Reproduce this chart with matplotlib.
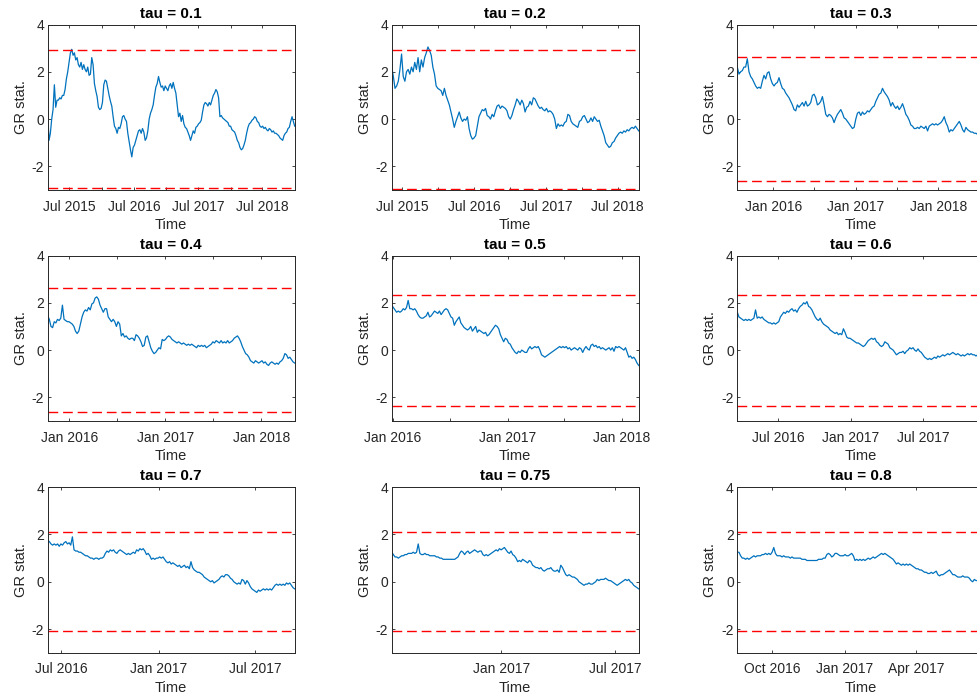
import matplotlib
matplotlib.use("Agg")
import matplotlib.pyplot as plt
import matplotlib.dates as mdates
import pandas as pd

plt.rcParams["font.family"] = ["Liberation Sans", "DejaVu Sans"]
plt.rcParams["axes.unicode_minus"] = False

# quantile levels and the matching critical values of the test
TAUS = ["0.1", "0.2", "0.3", "0.4", "0.5", "0.6", "0.7", "0.75", "0.8"]
CRIT = [2.93, 2.94, 2.62, 2.61, 2.35, 2.35, 2.09, 2.09, 2.09]

# sample window of each rolling statistic
START = ["2015-02-28", "2015-05-08", "2015-07-26",
         "2015-10-11", "2015-12-29", "2016-03-20",
         "2016-06-05", "2016-07-10", "2016-08-18"]
END = ["2018-12-31", "2018-10-16", "2018-07-23",
       "2018-05-08", "2018-02-23", "2017-12-03",
       "2017-09-14", "2017-08-08", "2017-06-26"]

gr_01 = [0.25, -0.9, -0.6, 0.0, 0.4, 1.45, 0.5, 0.8, 0.8, 0.9, 0.85, 1.0, 1.0, 1.25, 1.7, 2.0, 2.4, 2.8, 2.95,
         2.7, 2.8, 2.5, 2.6, 2.3, 2.2, 2.4, 2.1, 2.3, 2.1, 2.0, 2.2, 1.85, 1.9, 2.6, 2.3, 1.5, 1.2, 0.95, 0.5,
         0.4, 0.45, 0.7, 1.45, 1.65, 1.6, 1.3, 1.0, 0.75, 0.55, 0.1, -0.3, -0.4, -0.6, -0.35, -0.4, -0.2, 0.1,
         0.15, 0.0, -0.1, -0.6, -0.95, -1.3, -1.6, -1.2, -1.1, -0.9, -0.7, -0.5, -0.45, -0.6, -0.4, -0.55, -0.9,
         -0.8, -0.5, 0.0, 0.25, 0.4, 0.6, 1.0, 1.35, 1.5, 1.8, 1.55, 1.35, 1.4, 1.2, 1.4, 1.3, 1.2, 1.4, 1.5,
         1.3, 1.55, 1.3, 1.1, 0.6, 0.1, 0.25, -0.1, 0.15, -0.2, -0.35, -0.4, -0.55, -0.7, -0.9, -0.7, -0.5,
         -0.6, -0.35, -0.3, -0.2, -0.15, -0.05, 0.3, 0.6, 0.7, 0.65, 0.55, 0.7, 0.6, 0.8, 1.0, 1.1, 1.25, 1.15,
         0.9, 0.1, 0.15, 0.05, 0.0, -0.05, -0.1, -0.15, -0.3, -0.3, -0.45, -0.5, -0.55, -0.7, -0.9, -1.0, -1.2,
         -1.3, -1.25, -1.1, -0.9, -0.6, -0.35, -0.2, -0.15, -0.05, 0.0, 0.1, 0.05, -0.1, -0.15, -0.3, -0.35,
         -0.3, -0.4, -0.35, -0.45, -0.5, -0.4, -0.45, -0.55, -0.5, -0.6, -0.6, -0.65, -0.7, -0.8, -0.85, -0.9,
         -0.7, -0.6, -0.55, -0.4, -0.35, -0.1, 0.1, -0.1, -0.3]

gr_02 = [2.2, 1.8, 1.3, 1.4, 1.6, 2.1, 2.75, 1.8, 1.6, 2.0, 2.1, 1.9, 2.2, 2.0, 2.4, 2.1, 2.6, 2.0, 2.5, 2.2,
         2.6, 2.8, 3.05, 2.9, 2.7, 2.2, 1.9, 1.4, 1.3, 1.25, 1.2, 1.0, 1.3, 1.0, 0.8, 0.6, 0.3, 0.0, -0.35,
         -0.1, 0.1, 0.3, 0.05, -0.1, 0.0, -0.05, 0.1, -0.4, -0.7, -0.85, -0.8, -0.7, -0.3, 0.1, 0.25, 0.4, 0.35,
         0.45, 0.15, 0.1, 0.0, 0.2, 0.1, 0.35, 0.55, 0.6, 0.45, 0.55, 0.5, 0.45, 0.35, 0.1, 0.0, 0.15, 0.4, 0.6,
         0.85, 0.75, 0.6, 0.8, 0.65, 0.3, 0.5, 0.55, 0.75, 0.6, 0.9, 0.85, 0.7, 0.55, 0.45, 0.5, 0.4, 0.35,
         0.45, 0.3, 0.35, 0.3, 0.2, 0.0, -0.4, -0.2, -0.3, -0.25, -0.3, -0.15, -0.1, 0.2, 0.15, -0.1, -0.2,
         -0.25, -0.3, -0.35, -0.1, -0.05, 0.1, 0.15, 0.0, -0.15, -0.1, 0.05, -0.1, 0.1, 0.0, -0.1, -0.05, -0.3,
         -0.5, -0.7, -1.0, -1.1, -1.2, -1.15, -1.0, -0.95, -0.8, -0.7, -0.6, -0.55, -0.6, -0.5, -0.55, -0.45,
         -0.5, -0.4, -0.35, -0.4, -0.3, -0.4, -0.5]

gr_03 = [2.2, 1.9, 2.0, 2.05, 2.2, 2.2, 2.55, 2.0, 1.8, 1.7, 1.55, 1.4, 1.3, 1.35, 1.3, 1.6, 1.85, 1.7, 1.95,
         2.0, 1.7, 1.5, 1.4, 1.5, 1.55, 1.75, 1.5, 1.3, 1.25, 1.1, 1.0, 0.9, 0.75, 0.6, 0.4, 0.35, 0.6, 0.5,
         0.6, 0.7, 0.55, 0.75, 0.55, 0.6, 0.7, 1.0, 1.05, 0.9, 0.6, 0.65, 0.75, 0.95, 0.6, 0.2, 0.1, 0.2, 0.15,
         0.05, -0.15, 0.05, 0.2, 0.3, 0.4, 0.25, 0.05, 0.0, -0.1, -0.2, -0.3, -0.4, -0.35, 0.0, 0.25, 0.3, 0.15,
         0.3, 0.2, 0.25, 0.35, 0.3, 0.4, 0.5, 0.55, 0.75, 0.9, 1.05, 1.1, 1.3, 1.15, 1.05, 0.95, 0.8, 0.55, 0.7,
         0.55, 0.45, 0.55, 0.4, 0.5, 0.65, 0.45, 0.2, 0.1, -0.05, -0.25, -0.3, -0.4, -0.4, -0.35, -0.4, -0.3,
         -0.35, -0.4, -0.3, -0.5, -0.3, -0.25, -0.2, -0.25, -0.2, -0.25, -0.2, -0.15, -0.05, 0.1, -0.15, -0.3,
         -0.55, -0.45, -0.5, -0.4, -0.3, -0.2, -0.1, -0.25, -0.45, -0.55, -0.35, -0.45, -0.5, -0.55, -0.55,
         -0.6, -0.6, -0.65, -0.7, -0.65, -0.7, -0.7]

gr_04 = [1.45, 1.3, 1.0, 0.95, 1.2, 1.15, 1.3, 1.25, 1.35, 1.9, 1.3, 1.25, 1.2, 1.2, 1.15, 1.1, 1.0, 0.8, 0.7,
         0.8, 1.1, 1.4, 1.6, 1.7, 1.65, 1.8, 1.7, 1.95, 2.0, 2.2, 2.25, 2.15, 1.9, 1.75, 1.6, 1.75, 1.75, 1.4,
         1.3, 1.2, 1.3, 1.2, 1.0, 1.2, 1.1, 0.6, 0.7, 0.55, 0.6, 0.5, 0.45, 0.5, 0.5, 0.4, 0.65, 0.6, 0.5, 0.35,
         0.15, 0.2, 0.55, 0.6, 0.35, 0.1, -0.05, -0.15, -0.1, 0.0, 0.1, 0.05, 0.45, 0.4, 0.45, 0.55, 0.6, 0.55,
         0.45, 0.4, 0.35, 0.3, 0.35, 0.3, 0.25, 0.3, 0.25, 0.2, 0.25, 0.2, 0.25, 0.2, 0.15, 0.1, 0.2, 0.15, 0.2,
         0.15, 0.2, 0.1, 0.15, 0.2, 0.25, 0.35, 0.3, 0.4, 0.35, 0.3, 0.4, 0.3, 0.35, 0.3, 0.4, 0.3, 0.35, 0.4,
         0.5, 0.55, 0.6, 0.5, 0.35, 0.15, 0.0, -0.15, -0.2, -0.3, -0.45, -0.5, -0.55, -0.45, -0.5, -0.55, -0.5,
         -0.45, -0.55, -0.5, -0.6, -0.65, -0.55, -0.5, -0.55, -0.6, -0.55, -0.6, -0.5, -0.45, -0.35, -0.15,
         -0.2, -0.35, -0.3, -0.4, -0.5, -0.55]

gr_05 = [1.9, 1.8, 1.7, 1.6, 1.65, 1.6, 1.65, 1.75, 1.7, 1.8, 2.1, 1.75, 1.75, 1.7, 1.75, 1.65, 1.5, 1.4, 1.35,
         1.35, 1.4, 1.45, 1.6, 1.4, 1.45, 1.55, 1.65, 1.6, 1.55, 1.65, 1.5, 1.6, 1.7, 1.75, 1.7, 1.55, 1.4,
         1.35, 1.05, 1.2, 1.3, 1.4, 1.15, 1.05, 0.95, 0.9, 0.85, 0.9, 1.0, 0.8, 0.9, 1.0, 0.75, 0.85, 0.8, 0.75,
         0.7, 0.75, 0.6, 0.65, 0.75, 0.85, 0.95, 1.05, 1.0, 0.9, 0.65, 0.5, 0.35, 0.5, 0.45, 0.3, 0.25, 0.1, 0.0,
         -0.1, -0.15, -0.05, -0.1, 0.0, -0.05, -0.1, -0.1, 0.05, 0.15, 0.05, 0.1, 0.15, 0.1, 0.15, 0.0, -0.2,
         -0.25, -0.3, -0.25, -0.2, -0.15, -0.1, -0.05, 0.0, 0.05, 0.1, 0.15, 0.1, 0.15, 0.1, 0.15, 0.05, 0.1,
         0.0, 0.05, 0.1, 0.05, 0.0, 0.1, 0.05, -0.1, 0.05, 0.15, 0.05, 0.0, 0.2, 0.25, 0.15, 0.2, 0.1, 0.15,
         0.05, 0.1, 0.05, 0.0, 0.05, 0.1, 0.0, 0.1, -0.05, 0.15, 0.1, 0.15, 0.1, 0.05, 0.0, 0.1, -0.1, -0.3,
         -0.25, -0.35, -0.3, -0.4, -0.55, -0.65]

gr_06 = [1.6, 1.4, 1.35, 1.3, 1.25, 1.3, 1.25, 1.3, 1.25, 1.3, 1.35, 1.7, 1.35, 1.4, 1.35, 1.4, 1.3, 1.25, 1.2,
         1.15, 1.15, 1.1, 1.15, 1.1, 1.15, 1.2, 1.4, 1.5, 1.6, 1.55, 1.65, 1.6, 1.7, 1.75, 1.65, 1.7, 1.6, 1.75,
         1.85, 1.9, 2.0, 1.95, 2.05, 1.85, 1.8, 1.7, 1.55, 1.4, 1.3, 1.25, 1.35, 1.2, 1.1, 1.05, 1.0, 0.95, 0.85,
         0.8, 0.75, 0.7, 0.75, 0.65, 0.7, 0.65, 0.9, 0.75, 0.55, 0.5, 0.5, 0.45, 0.4, 0.35, 0.3, 0.3, 0.25, 0.2,
         0.15, 0.2, 0.3, 0.4, 0.45, 0.5, 0.45, 0.5, 0.35, 0.3, 0.2, 0.15, 0.2, 0.35, 0.3, 0.25, 0.1, 0.05, 0.0,
         -0.1, -0.2, -0.15, -0.1, -0.1, -0.05, -0.15, -0.05, 0.0, 0.1, 0.05, 0.1, 0.0, -0.05, 0.05, -0.05, -0.1,
         -0.2, -0.3, -0.35, -0.4, -0.35, -0.4, -0.35, -0.3, -0.35, -0.25, -0.3, -0.25, -0.2, -0.25, -0.2, -0.15,
         -0.2, -0.15, -0.1, -0.15, -0.2, -0.15, -0.2, -0.25, -0.2, -0.25, -0.2, -0.15, -0.2, -0.15, -0.2, -0.2,
         -0.25, -0.2, -0.2, -0.25, -0.2, -0.2]

gr_07 = [1.75, 1.7, 1.6, 1.55, 1.6, 1.55, 1.6, 1.5, 1.6, 1.55, 1.65, 1.7, 1.6, 1.65, 1.55, 1.9, 1.35, 1.3, 1.3,
         1.25, 1.25, 1.2, 1.15, 1.1, 1.1, 1.05, 1.0, 1.0, 0.95, 1.0, 1.0, 0.95, 1.0, 1.0, 1.05, 1.2, 1.3, 1.25,
         1.35, 1.3, 1.35, 1.25, 1.2, 1.3, 1.35, 1.3, 1.25, 1.2, 1.15, 1.2, 1.15, 1.2, 1.25, 1.2, 1.35, 1.3, 1.4,
         1.35, 1.4, 1.3, 1.15, 1.2, 1.1, 0.95, 1.0, 0.95, 1.0, 1.0, 1.05, 1.0, 1.05, 0.95, 0.85, 0.8, 0.85, 0.75,
         0.8, 0.75, 0.7, 0.65, 0.7, 0.6, 0.65, 0.7, 0.6, 0.65, 0.55, 0.85, 0.6, 0.5, 0.45, 0.4, 0.4, 0.35, 0.3,
         0.2, 0.15, 0.1, 0.05, 0.0, 0.05, -0.05, 0.0, 0.05, 0.1, 0.2, 0.25, 0.2, 0.3, 0.3, 0.25, 0.15, 0.1, 0.0,
         -0.05, -0.1, -0.05, -0.1, 0.1, 0.05, -0.1, 0.05, -0.05, -0.2, -0.3, -0.35, -0.4, -0.45, -0.35, -0.4,
         -0.35, -0.3, -0.35, -0.3, -0.35, -0.3, -0.35, -0.25, -0.15, -0.1, -0.15, -0.1, -0.15, -0.1, -0.15,
         -0.05, -0.1, -0.05, -0.15, -0.25, -0.3]

gr_075 = [1.25, 1.15, 1.05, 1.05, 1.0, 1.05, 1.1, 1.1, 1.15, 1.15, 1.2, 1.2, 1.2, 1.25, 1.2, 1.25, 1.6, 1.2,
          1.15, 1.15, 1.2, 1.15, 1.15, 1.1, 1.1, 1.1, 1.1, 1.05, 1.05, 1.0, 1.0, 0.95, 0.95, 0.95, 0.95, 0.95,
          0.95, 0.95, 0.95, 1.0, 1.05, 1.2, 1.3, 1.25, 1.15, 1.25, 1.3, 1.2, 1.25, 1.3, 1.35, 1.3, 1.25, 1.3,
          1.3, 1.15, 1.1, 1.15, 1.1, 1.15, 1.2, 1.25, 1.3, 1.35, 1.3, 1.4, 1.35, 1.4, 1.45, 1.35, 1.25, 1.2, 1.3,
          1.15, 1.1, 1.0, 0.85, 0.9, 0.85, 0.95, 0.9, 0.85, 0.8, 0.9, 0.85, 0.7, 0.65, 0.6, 0.6, 0.55, 0.6, 0.5,
          0.45, 0.5, 0.55, 0.55, 0.6, 0.5, 0.45, 0.45, 0.5, 0.4, 0.7, 0.6, 0.45, 0.3, 0.25, 0.3, 0.25, 0.2, 0.2,
          0.15, 0.1, 0.0, -0.05, -0.1, -0.15, -0.1, -0.1, -0.05, -0.1, -0.1, -0.05, 0.0, 0.1, 0.05, 0.1, 0.1,
          0.1, 0.15, 0.1, 0.05, 0.05, 0.0, -0.05, -0.1, -0.15, -0.1, -0.05, 0.0, 0.05, 0.1, 0.05, 0.1, 0.0,
          -0.05, -0.15, -0.2, -0.25, -0.3]

gr_08 = [1.25, 1.25, 1.1, 1.0, 1.0, 0.95, 1.0, 0.95, 1.0, 1.05, 1.1, 1.05, 1.1, 1.1, 1.1, 1.15, 1.15, 1.2, 1.15,
         1.2, 1.15, 1.25, 1.45, 1.2, 1.1, 1.1, 1.1, 1.05, 1.1, 1.05, 1.05, 1.05, 1.0, 1.05, 1.0, 1.0, 1.0, 1.0,
         1.0, 0.95, 0.95, 0.95, 0.9, 0.9, 0.9, 0.9, 0.9, 0.9, 0.9, 0.95, 0.95, 0.95, 1.0, 1.0, 1.15, 1.2, 1.15,
         1.05, 1.1, 1.2, 1.2, 1.15, 1.1, 1.1, 1.1, 1.15, 1.1, 1.1, 1.15, 1.2, 1.1, 0.9, 0.95, 0.9, 0.95, 0.9,
         0.95, 0.9, 0.95, 1.0, 0.95, 1.0, 1.05, 1.0, 1.05, 1.1, 1.15, 1.2, 1.15, 1.2, 1.15, 1.1, 1.05, 1.0, 0.95,
         0.85, 0.75, 0.8, 0.75, 0.7, 0.75, 0.7, 0.75, 0.7, 0.75, 0.7, 0.65, 0.6, 0.55, 0.55, 0.5, 0.5, 0.45, 0.4,
         0.4, 0.35, 0.35, 0.4, 0.35, 0.4, 0.45, 0.3, 0.25, 0.3, 0.3, 0.35, 0.4, 0.45, 0.5, 0.4, 0.3, 0.3, 0.25,
         0.2, 0.2, 0.2, 0.25, 0.2, 0.2, 0.2, 0.15, 0.05, 0.0, 0.1, 0.05, 0.05, 0.0, 0.0, 0.0, 0.0]

SERIES = [gr_01, gr_02, gr_03, gr_04, gr_05, gr_06, gr_07, gr_075, gr_08]

# labelled months and unlabelled (minor) months on each date axis
MAJOR_MONTHS = [(7,), (7,), (1,), (1,), (1,), (1, 7), (1, 7), (1, 7), (1, 4, 7, 10)]
MINOR_MONTHS = [(1,), (1,), (7,), (7,), (7,), None, None, None, None]

W, H = 977, 695
fig = plt.figure(figsize=(W / 100, H / 100), dpi=100)

col_left = [47.7, 391.7, 737.3]
row_bottom = [190.0, 421.0, 652.7]
ax_w, ax_h = 247.0, 165.5

GREY = "#262626"

for i, (tau, crit, vals) in enumerate(zip(TAUS, CRIT, SERIES)):
    r, c = divmod(i, 3)
    ax = fig.add_axes([col_left[c] / W, 1 - row_bottom[r] / H, ax_w / W, ax_h / H])

    dates = pd.date_range(START[i], END[i], periods=len(vals))
    ax.plot(dates, vals, color="#0072BD", lw=0.9)
    ax.axhline(crit, color="red", lw=1.0, dashes=(7, 3.5))
    ax.axhline(-crit, color="red", lw=1.0, dashes=(7, 3.5))

    ax.set_xlim(dates[0], dates[-1])
    ax.set_ylim(-3, 4)
    ax.set_yticks([-2, 0, 2, 4])

    ax.xaxis.set_major_locator(mdates.MonthLocator(bymonth=MAJOR_MONTHS[i]))
    ax.xaxis.set_major_formatter(mdates.DateFormatter("%b %Y"))
    if MINOR_MONTHS[i]:
        ax.xaxis.set_minor_locator(mdates.MonthLocator(bymonth=MINOR_MONTHS[i]))
    else:
        ax.xaxis.set_minor_locator(plt.NullLocator())
    ax.yaxis.set_minor_locator(plt.NullLocator())

    ax.tick_params(which="both", direction="in", top=True, right=True,
                   length=2.4, width=0.6, color=GREY, labelcolor=GREY,
                   labelsize=10)
    ax.tick_params(axis="x", which="both", pad=7)
    ax.tick_params(axis="y", which="both", pad=2.5)
    for sp in ax.spines.values():
        sp.set_color(GREY)
        sp.set_linewidth(0.7)

    ax.set_title(f"tau = {tau}", fontsize=11, fontweight="bold", pad=5)
    ax.set_xlabel("Time", fontsize=10.5, color=GREY, labelpad=3)
    ax.set_ylabel("GR stat.", fontsize=10.5, color=GREY, labelpad=3)

fig.savefig("out.png", dpi=100)
